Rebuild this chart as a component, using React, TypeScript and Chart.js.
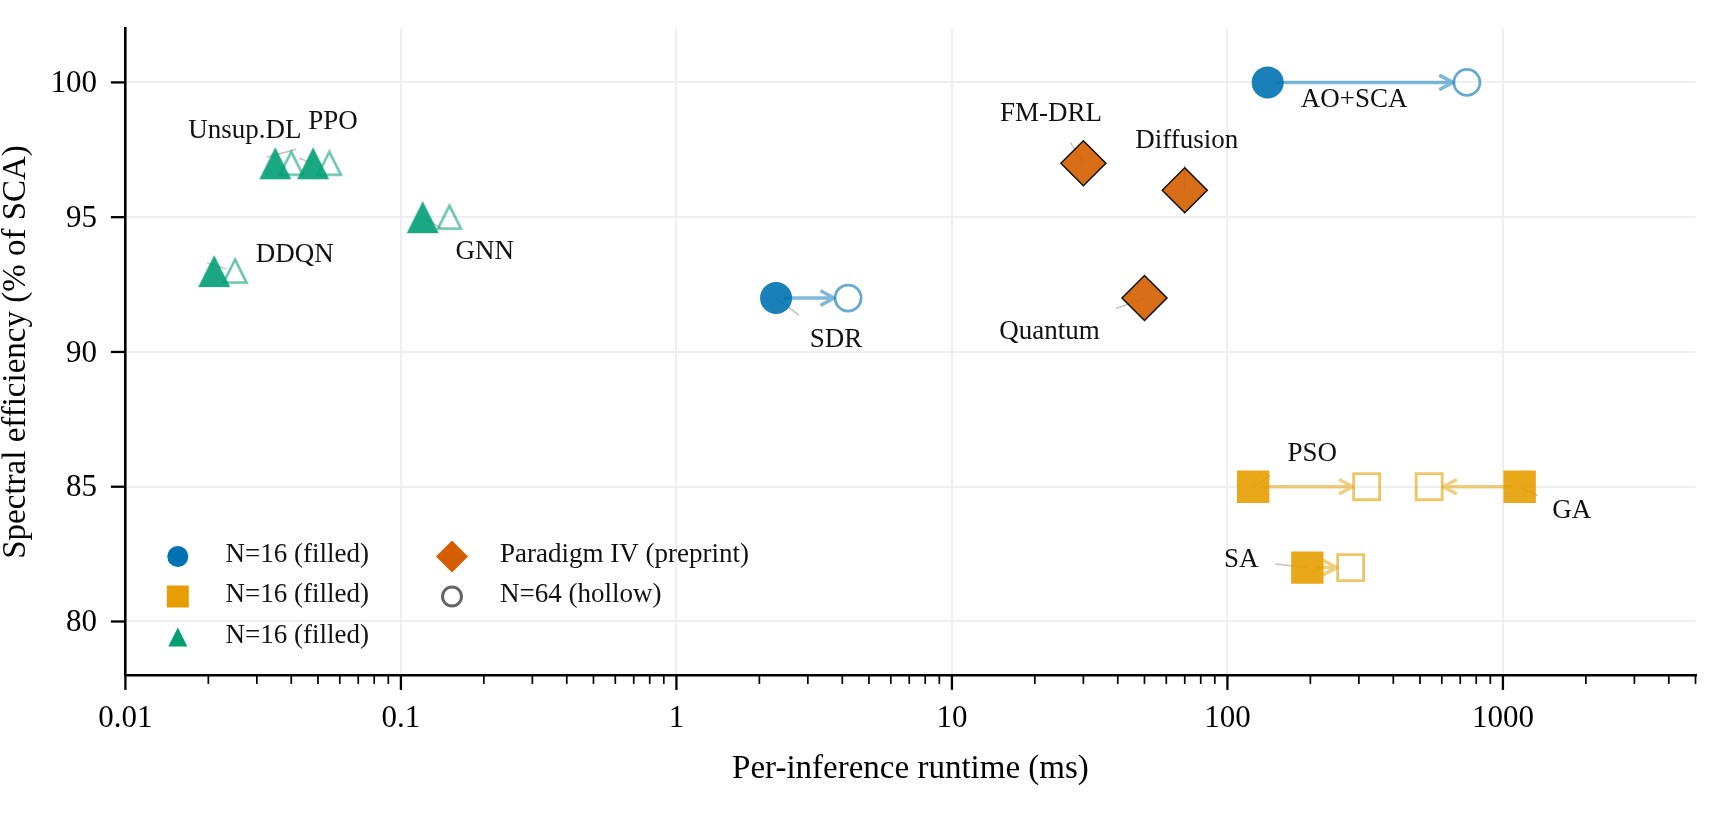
import React, { useEffect, useRef } from "react";
import { Chart, registerables } from "chart.js";

Chart.register(...registerables);

// ---------------- data ----------------
const BLUE_METHODS = ["AO+SCA", "SDR"];
const BLUE_RUNTIME_N16 = [140, 2.3];
const BLUE_RUNTIME_N64 = [740, 4.2];
const BLUE_EFFICIENCY = [100, 92];

const GOLD_METHODS = ["PSO", "GA", "SA"];
const GOLD_RUNTIME_N16 = [124, 1150, 195];
const GOLD_RUNTIME_N64 = [320, 540, 280];
const GOLD_EFFICIENCY = [85, 85, 82];

const GREEN_METHODS = ["Unsup.DL", "PPO", "DDQN", "GNN"];
const GREEN_RUNTIME_N16 = [0.035, 0.048, 0.021, 0.12];
const GREEN_RUNTIME_N64 = [0.04, 0.055, 0.025, 0.15];
const GREEN_EFFICIENCY = [97, 97, 93, 95];

const PREPRINT_METHODS = ["FM-DRL", "Diffusion", "Quantum"];
const PREPRINT_RUNTIME = [30, 70, 50];
const PREPRINT_EFFICIENCY = [97, 96, 92];

const X_MAJOR_TICKS = [0.01, 0.1, 1, 10, 100, 1000];
const X_TICK_LABELS = ["0.01", "0.1", "1", "10", "100", "1000"];
const Y_TICKS = [80, 85, 90, 95, 100];
const X_MIN = 0.01;
const X_MAX = 5000;
const Y_MIN = 78;
const Y_MAX = 102;

const X_TITLE = "Per-inference runtime (ms)";
const Y_TITLE = "Spectral efficiency (% of SCA)";
const LEGEND_LABELS = [
  "N=16 (filled)",
  "N=16 (filled)",
  "N=16 (filled)",
  "Paradigm IV (preprint)",
  "N=64 (hollow)",
];

// ---------------- layout / style ----------------
const W = 1725;
const H = 813;
const PLOT = { left: 125.4, right: 1695.5, top: 28.5, bottom: 675.4 };
const SERIF = "'Liberation Serif', 'Times New Roman', Times, serif";
const TEXT = "#111111";
const GRID = "#efefef";

const BLUE = [0, 114, 178];
const GOLD = [230, 159, 0];
const GREEN = [0, 158, 115];
const VERMIL = [213, 94, 0];
const rgba = (c: number[], a: number) => `rgba(${c[0]},${c[1]},${c[2]},${a})`;

// label centre offsets (px) from the N=16 marker
const LABEL_OFFSET: Record<string, number[]> = {
  "Unsup.DL": [-30.5, -32.5],
  PPO: [20, -41],
  DDQN: [80.5, -15.7],
  GNN: [62, 34.5],
  SDR: [60, 41.5],
  "FM-DRL": [-32.4, -49],
  Diffusion: [2, -49],
  Quantum: [-95, 34],
  "AO+SCA": [86.4, 17.5],
  PSO: [59, -33],
  GA: [52, 24],
  SA: [-66, -7.5],
};
// leader segments (px offsets from the N=16 marker)
const LEADER: Record<string, number[]> = {
  "Unsup.DL": [-8.5, -6, 21, -14],
  PPO: [-14, -5, 0, 0],
  DDQN: [-7, -8, 12, -2],
  GNN: [0, 0, 18, 11],
  SDR: [0, 0, 23, 17],
  "FM-DRL": [-13, -21, 0, 0],
  Diffusion: [0, -25, 0, 0],
  Quantum: [-28.5, 10.5, 0, 0],
  PSO: [0, 0, 17, -11],
  GA: [0, 0, 18, 9],
  SA: [-32, -3.5, 0, 0],
};
const LEGEND_LAYOUT = {
  markerX: [177.8, 452],
  textX: [225.5, 500],
  rowY: [556.5, 596.5, 637],
  textDy: -1.5,
};

const isMajor = (v: number) => {
  const l = Math.log10(v);
  return Math.abs(l - Math.round(l)) < 1e-9;
};

function buildXTicks(): number[] {
  const out: number[] = [];
  for (const d of X_MAJOR_TICKS) {
    for (let m = 1; m <= 9; m++) {
      const v = parseFloat((d * m).toPrecision(6));
      if (v <= X_MAX + 1e-9) out.push(v);
    }
  }
  return out;
}
const X_ALL_TICKS = buildXTicks();

function makeTriangle(half: number, fill: string | null, stroke: string | null, lw: number) {
  let S = Math.ceil(half * 2 + lw * 4 + 6);
  if (S % 2) S += 1;
  const c = document.createElement("canvas");
  c.width = S;
  c.height = S;
  const g = c.getContext("2d")!;
  const m = S / 2;
  g.beginPath();
  g.moveTo(m, m - half);
  g.lineTo(m - half, m + half);
  g.lineTo(m + half, m + half);
  g.closePath();
  if (fill) {
    g.fillStyle = fill;
    g.fill();
  }
  if (stroke) {
    g.lineWidth = lw;
    g.strokeStyle = stroke;
    g.lineJoin = "miter";
    g.stroke();
  }
  return c;
}

const pts = (xs: number[], ys: number[]) => xs.map((x, i) => ({ x, y: ys[i] }));

export default function App() {
  const ref = useRef<HTMLCanvasElement>(null);

  useEffect(() => {
    const canvas = ref.current!;
    const triFilled = makeTriangle(16, rgba(GREEN, 0.9), null, 0);
    const triHollow = makeTriangle(11.5, null, rgba(GREEN, 0.6), 2.6);

    const annotated: { name: string; x: number; y: number }[] = [];
    BLUE_METHODS.forEach((n, i) => annotated.push({ name: n, x: BLUE_RUNTIME_N16[i], y: BLUE_EFFICIENCY[i] }));
    GOLD_METHODS.forEach((n, i) => annotated.push({ name: n, x: GOLD_RUNTIME_N16[i], y: GOLD_EFFICIENCY[i] }));
    GREEN_METHODS.forEach((n, i) => annotated.push({ name: n, x: GREEN_RUNTIME_N16[i], y: GREEN_EFFICIENCY[i] }));
    PREPRINT_METHODS.forEach((n, i) => annotated.push({ name: n, x: PREPRINT_RUNTIME[i], y: PREPRINT_EFFICIENCY[i] }));

    const arrows: { x1: number; x2: number; y: number; color: string }[] = [];
    BLUE_METHODS.forEach((_, i) =>
      arrows.push({ x1: BLUE_RUNTIME_N16[i], x2: BLUE_RUNTIME_N64[i], y: BLUE_EFFICIENCY[i], color: rgba(BLUE, 0.5) })
    );
    GOLD_METHODS.forEach((_, i) =>
      arrows.push({ x1: GOLD_RUNTIME_N16[i], x2: GOLD_RUNTIME_N64[i], y: GOLD_EFFICIENCY[i], color: rgba(GOLD, 0.5) })
    );

    const overlay = {
      id: "overlay",
      beforeDatasetsDraw(chart: any) {
        const ctx = chart.ctx;
        const xs = chart.scales.x;
        const ys = chart.scales.y;
        ctx.save();
        ctx.strokeStyle = "#c4c4c4";
        ctx.lineWidth = 1.5;
        for (const a of annotated) {
          const s = LEADER[a.name];
          if (!s) continue;
          const px = xs.getPixelForValue(a.x);
          const py = ys.getPixelForValue(a.y);
          ctx.beginPath();
          ctx.moveTo(px + s[0], py + s[1]);
          ctx.lineTo(px + s[2], py + s[3]);
          ctx.stroke();
        }
        ctx.restore();
      },
      afterDatasetsDraw(chart: any) {
        const ctx = chart.ctx;
        const xs = chart.scales.x;
        const ys = chart.scales.y;
        ctx.save();
        // arrows N=16 -> N=64
        for (const a of arrows) {
          const x1 = xs.getPixelForValue(a.x1);
          const x2 = xs.getPixelForValue(a.x2);
          const y = ys.getPixelForValue(a.y);
          const dir = Math.sign(x2 - x1);
          const sx = x1 + dir * 8;
          const ex = x2 - dir * 14;
          const hl = 13.6;
          const hw = 7.3;
          ctx.strokeStyle = a.color;
          ctx.lineWidth = 3.5;
          ctx.lineJoin = "round";
          ctx.lineCap = "butt";
          ctx.beginPath();
          ctx.moveTo(sx, y);
          ctx.lineTo(ex, y);
          ctx.moveTo(ex - dir * hl, y - hw);
          ctx.lineTo(ex, y);
          ctx.lineTo(ex - dir * hl, y + hw);
          ctx.stroke();
        }
        // labels
        ctx.fillStyle = TEXT;
        ctx.font = `27px ${SERIF}`;
        ctx.textAlign = "center";
        ctx.textBaseline = "middle";
        for (const a of annotated) {
          const o = LABEL_OFFSET[a.name] || [0, 0];
          const px = xs.getPixelForValue(a.x);
          const py = ys.getPixelForValue(a.y);
          ctx.fillText(a.name, px + o[0], py + o[1]);
        }
        ctx.restore();
      },
      afterDraw(chart: any) {
        const ctx = chart.ctx;
        const xs = chart.scales.x;
        const ys = chart.scales.y;
        const area = chart.chartArea;
        ctx.save();
        ctx.strokeStyle = "#000";
        // x ticks
        for (const v of X_ALL_TICKS) {
          const px = xs.getPixelForValue(v);
          const major = isMajor(v);
          ctx.lineWidth = major ? 2.3 : 1.7;
          ctx.beginPath();
          ctx.moveTo(px, area.bottom);
          ctx.lineTo(px, area.bottom + (major ? 14.5 : 8.5));
          ctx.stroke();
        }
        // y ticks
        for (const v of Y_TICKS) {
          const py = ys.getPixelForValue(v);
          ctx.lineWidth = 2.3;
          ctx.beginPath();
          ctx.moveTo(area.left, py);
          ctx.lineTo(area.left - 14.5, py);
          ctx.stroke();
        }
        // legend
        const L = LEGEND_LAYOUT;
        const mark = (i: number, col: number, row: number) => {
          const x = L.markerX[col];
          const y = L.rowY[row];
          ctx.beginPath();
          if (i === 0) {
            ctx.fillStyle = rgba(BLUE, 1);
            ctx.arc(x, y, 10.5, 0, Math.PI * 2);
            ctx.fill();
          } else if (i === 1) {
            ctx.fillStyle = rgba(GOLD, 1);
            ctx.rect(x - 11, y - 11, 22, 22);
            ctx.fill();
          } else if (i === 2) {
            ctx.fillStyle = rgba(GREEN, 1);
            ctx.moveTo(x, y - 9.5);
            ctx.lineTo(x - 9.5, y + 9.5);
            ctx.lineTo(x + 9.5, y + 9.5);
            ctx.closePath();
            ctx.fill();
          } else if (i === 3) {
            ctx.fillStyle = rgba(VERMIL, 1);
            ctx.moveTo(x, y - 16);
            ctx.lineTo(x + 16, y);
            ctx.lineTo(x, y + 16);
            ctx.lineTo(x - 16, y);
            ctx.closePath();
            ctx.fill();
          } else {
            ctx.strokeStyle = "#666666";
            ctx.lineWidth = 3;
            ctx.arc(x, y, 9.5, 0, Math.PI * 2);
            ctx.stroke();
          }
          ctx.fillStyle = TEXT;
          ctx.font = `27px ${SERIF}`;
          ctx.textAlign = "left";
          ctx.textBaseline = "middle";
          ctx.fillText(LEGEND_LABELS[i], L.textX[col], y + L.textDy);
        };
        mark(0, 0, 0);
        mark(1, 0, 1);
        mark(2, 0, 2);
        mark(3, 1, 0);
        mark(4, 1, 1);
        ctx.restore();
      },
    };

    const zeroPad = (s: any) => {
      s.paddingTop = 0;
      s.paddingBottom = 0;
      s.paddingLeft = 0;
      s.paddingRight = 0;
    };

    const chart = new Chart(canvas, {
      type: "scatter",
      data: {
        datasets: [
          {
            label: "blue-n16",
            data: pts(BLUE_RUNTIME_N16, BLUE_EFFICIENCY),
            pointStyle: "circle",
            pointRadius: 16,
            pointHoverRadius: 16,
            pointBackgroundColor: rgba(BLUE, 0.9),
            pointBorderWidth: 0,
            pointHoverBorderWidth: 0,
          },
          {
            label: "gold-n16",
            data: pts(GOLD_RUNTIME_N16, GOLD_EFFICIENCY),
            pointStyle: "rect",
            pointRadius: 22.9,
            pointHoverRadius: 22.9,
            pointBackgroundColor: rgba(GOLD, 0.9),
            pointBorderWidth: 0,
            pointHoverBorderWidth: 0,
          },
          {
            label: "green-n16",
            data: pts(GREEN_RUNTIME_N16, GREEN_EFFICIENCY),
            pointStyle: triFilled as any,
            pointRadius: 16,
            pointHoverRadius: 16,
          },
          {
            label: "preprint",
            data: pts(PREPRINT_RUNTIME, PREPRINT_EFFICIENCY),
            pointStyle: "rectRot",
            pointRadius: 22.5,
            pointHoverRadius: 22.5,
            pointBackgroundColor: rgba(VERMIL, 0.9),
            pointBorderColor: "#111111",
            pointBorderWidth: 1.5,
            pointHoverBorderWidth: 1.5,
          },
          {
            label: "blue-n64",
            data: pts(BLUE_RUNTIME_N64, BLUE_EFFICIENCY),
            pointStyle: "circle",
            pointRadius: 13,
            pointHoverRadius: 13,
            pointBackgroundColor: "rgba(0,0,0,0)",
            pointBorderColor: rgba(BLUE, 0.6),
            pointBorderWidth: 2.8,
            pointHoverBorderWidth: 2.8,
          },
          {
            label: "gold-n64",
            data: pts(GOLD_RUNTIME_N64, GOLD_EFFICIENCY),
            pointStyle: "rect",
            pointRadius: 18.4,
            pointHoverRadius: 18.4,
            pointBackgroundColor: "rgba(0,0,0,0)",
            pointBorderColor: rgba(GOLD, 0.6),
            pointBorderWidth: 2.8,
            pointHoverBorderWidth: 2.8,
          },
          {
            label: "green-n64",
            data: pts(GREEN_RUNTIME_N64, GREEN_EFFICIENCY),
            pointStyle: triHollow as any,
            pointRadius: 13,
            pointHoverRadius: 13,
          },
        ],
      },
      options: {
        responsive: false,
        animation: false,
        devicePixelRatio: 1,
        events: [],
        layout: {
          padding: { left: 0, right: W - PLOT.right, top: PLOT.top, bottom: 0 },
        },
        plugins: {
          legend: { display: false },
          tooltip: { enabled: false },
        },
        scales: {
          x: {
            type: "logarithmic",
            position: "bottom",
            min: X_MIN,
            max: X_MAX,
            afterBuildTicks: (s: any) => {
              s.ticks = X_ALL_TICKS.map((v) => ({ value: v, major: isMajor(v) }));
            },
            afterFit: (s: any) => {
              s.height = H - PLOT.bottom;
              zeroPad(s);
            },
            ticks: {
              autoSkip: false,
              maxRotation: 0,
              minRotation: 0,
              padding: 25,
              color: "#000",
              font: { family: SERIF, size: 31, lineHeight: 1.2 },
              callback: (value: any) => {
                const v = Number(value);
                const i = X_MAJOR_TICKS.findIndex((t) => Math.abs(t - v) / t < 1e-6);
                return i >= 0 ? X_TICK_LABELS[i] : "";
              },
            },
            grid: {
              drawTicks: false,
              lineWidth: 2,
              color: (c: any) => (c.tick && isMajor(c.tick.value) ? GRID : "rgba(0,0,0,0)"),
            },
            border: { display: true, color: "#000", width: 2.6 },
            title: {
              display: true,
              text: X_TITLE,
              color: "#000",
              font: { family: SERIF, size: 33, lineHeight: 1 },
              padding: { top: 0, bottom: 27 },
            },
          },
          y: {
            type: "linear",
            position: "left",
            min: Y_MIN,
            max: Y_MAX,
            afterBuildTicks: (s: any) => {
              s.ticks = Y_TICKS.map((v) => ({ value: v }));
            },
            afterFit: (s: any) => {
              s.width = PLOT.left;
              zeroPad(s);
            },
            ticks: {
              padding: 28.5,
              color: "#000",
              labelOffset: 1.5,
              font: { family: SERIF, size: 31, lineHeight: 1.2 },
              callback: (value: any) => String(value),
            },
            grid: { drawTicks: false, lineWidth: 2, color: GRID },
            border: { display: true, color: "#000", width: 2.6 },
            title: {
              display: true,
              text: Y_TITLE,
              color: "#000",
              font: { family: SERIF, size: 33, lineHeight: 1 },
              padding: { top: 0, bottom: 0 },
            },
          },
        },
      } as any,
      plugins: [overlay as any],
    });

    return () => chart.destroy();
  }, []);

  return (
    <div style={{ position: "absolute", left: 0, top: 0, width: W, height: H, background: "#fff" }}>
      <canvas ref={ref} width={W} height={H} style={{ display: "block", width: W, height: H }} />
    </div>
  );
}
